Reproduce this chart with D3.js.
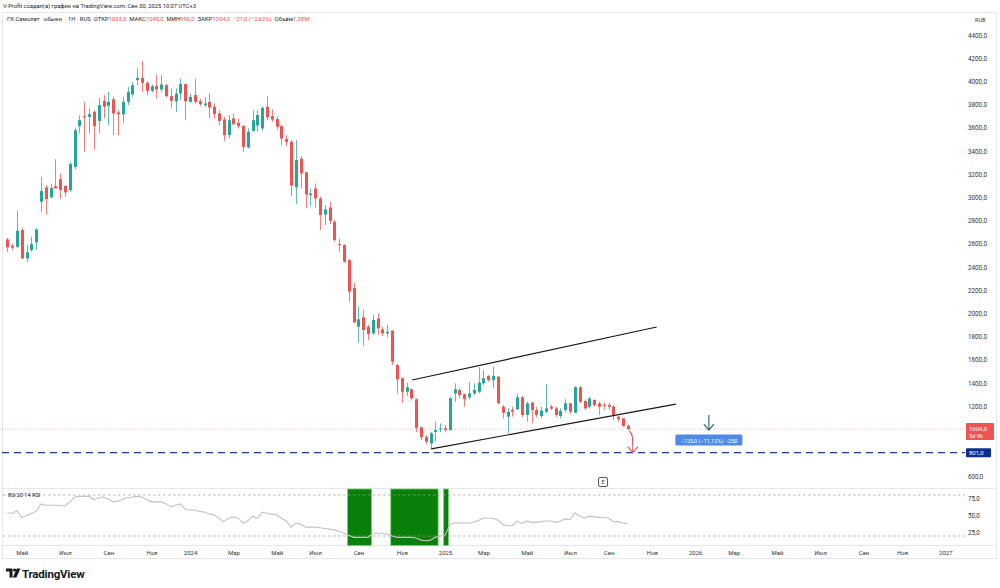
<!DOCTYPE html>
<html>
<head>
<meta charset="utf-8">
<script src="https://cdn.jsdelivr.net/npm/d3@7"></script>
<style>
  body { margin: 0; background: #fff; }
  svg { display: block; font-family: Roboto, "Noto Sans", sans-serif; }
</style>
</head>
<body>
<svg id="chart" width="1000" height="588"></svg>
<script>
// weekly candles, first bar 2023-04-10
let firstWeek = '2023-04-10';

let open = [2639,2584,2575,2719,2475,2547,2613,2963,3087,3001,3098,3158,3098,3064,3264,3615,3701,3695,3738,3660,
  3833,3790,3845,3733,3716,3824,3888,4011,4031,3988,3919,3959,3931,3968,3873,3828,3896,3977,3824,3882,
  3830,3796,3824,3781,3724,3672,3537,3681,3643,3617,3431,3574,3620,3595,3781,3701,3675,3615,3503,3481,
  3089,3335,3217,3020,3078,2992,2854,2914,2791,2598,2590,2461,2220,1886,1967,1886,1829,1958,1864,1829,
  1852,1556,1442,1326,1347,1261,1020,934,882,979,1002,1011,996,1312,1341,1304,1278,1312,1326,1399,
  1462,1427,1455,1197,1111,1169,1175,1278,1126,1232,1169,1117,1154,1197,1183,1117,1169,1226,1145,1364,
  1246,1197,1255,1226,1212,1212,1197,1111,1097,1033.5];

let high = [2653,2604,2885,2739,2590,2661,2734,3178,3107,3121,3330,3207,3107,3307,3600,3710,3824,3767,3753,3858,
  3882,3910,3867,3753,3867,3953,3996,4112,4177,4002,3974,4060,4054,3977,3940,3940,4026,3983,3896,4026,
  3853,3867,3896,3810,3753,3695,3710,3724,3681,3623,3595,3753,3753,3787,3873,3759,3701,3623,3537,3494,
  3494,3356,3221,3078,3121,3006,2934,2963,2805,2648,2598,2467,2265,2058,2030,1901,1987,2002,1886,1901,
  1858,1565,1450,1404,1356,1270,1025,953,982,1068,1054,1040,1283,1399,1356,1312,1412,1399,1536,1513,
  1470,1542,1462,1212,1183,1197,1312,1289,1240,1240,1197,1197,1393,1212,1197,1183,1261,1232,1375,1375,
  1261,1283,1261,1240,1232,1232,1212,1117,1097,1045];

let low = [2532,2547,2561,2469,2446,2532,2547,2877,2854,2992,3078,2986,3006,3049,3242,3552,3393,3552,3414,3552,
  3681,3623,3537,3537,3638,3796,3867,3968,3910,3882,3905,3853,3910,3862,3767,3738,3839,3666,3815,3810,
  3787,3781,3681,3681,3623,3488,3509,3623,3595,3393,3423,3566,3566,3574,3666,3652,3580,3451,3443,3012,
  2943,3078,2906,2926,2914,2719,2762,2771,2618,2532,2437,2102,1915,1748,1720,1772,1815,1815,1806,1795,
  1556,1313,1232,1289,1249,979,910,876,830,896,979,982,990,1240,1269,1197,1261,1298,1312,1384,
  1412,1356,1220,1097,968,1111,1169,1106,1068,1054,1106,1097,1140,1169,1106,1097,1145,1134,1140,1226,
  1169,1183,1197,1126,1169,1169,1083,1068,1025,996];

let close = [2570,2567,2713,2475,2527,2598,2725,3055,2986,3083,3078,3064,3044,3288,3580,3666,3690,3718,3615,3796,
  3781,3824,3724,3716,3824,3910,3968,4031,3988,3919,3959,3931,3974,3873,3833,3896,3977,3830,3867,3824,
  3804,3810,3776,3718,3660,3537,3666,3632,3615,3436,3566,3666,3710,3772,3690,3672,3609,3509,3477,3102,
  3322,3207,3025,3035,2992,2848,2897,2799,2633,2590,2446,2188,1924,1950,1858,1823,1944,1872,1829,1843,
  1585,1433,1326,1364,1270,1014,934,896,968,996,1011,996,1269,1347,1298,1261,1312,1341,1404,1442,
  1427,1462,1226,1145,1154,1154,1278,1126,1226,1169,1126,1163,1183,1180,1126,1163,1226,1154,1364,1240,
  1183,1269,1212,1197,1203,1197,1126,1089,1031,1004];

let rsi = [54,53,57,47,50,53,56,67,65,65,65,65,64,70,77,78,78,78,73,76,
  77,74,70,71,74,76,77,78,77,73,70,70,70,67,63,65,67,59,58,58,
  56,55,52,51,46,41,46,48,46,39,42,49,46,55,53,52,51,46,42,33,
  39,37,33,33,33,32,31,30,29,27,24,21,18,18,18,18,24,24,24,23,
  20,18,18,18,18,17,14,13,14,18,20,21,36,39,39,39,39,40,43,46,
  46,46,43,37,35,35,42,38,42,40,40,41,42,42,40,42,45,44,54,49,
  46,49,48,47,47,46,41,41,39,38];

// oversold zones highlighted on the RSI pane
let zones = [['2024-08-17', '2024-09-21'], ['2024-10-19', '2024-12-27'], ['2025-01-04', '2025-01-11']];

let priceTicks = [4400,4200,4000,3800,3600,3400,3200,3000,2800,2600,2400,2200,2000,1800,1600,1400,1200,600];
let rsiTicks = [75, 50, 25];

let timeTicks = [
  ['2023-05-01','Май'],['2023-07-03','Июл'],['2023-09-04','Сен'],['2023-11-06','Ноя'],
  ['2024-01-01','2024'],['2024-03-04','Мар'],['2024-05-06','Май'],['2024-07-01','Июл'],
  ['2024-09-02','Сен'],['2024-11-04','Ноя'],['2025-01-06','2025'],['2025-03-03','Мар'],
  ['2025-05-05','Май'],['2025-07-07','Июл'],['2025-09-01','Сен'],['2025-11-03','Ноя'],
  ['2026-01-05','2026'],['2026-03-02','Мар'],['2026-05-04','Май'],['2026-07-06','Июл'],
  ['2026-09-07','Сен'],['2026-11-02','Ноя'],['2027-01-04','2027']];

// drawings
let upperChannel = [['2024-11-19', 1427], ['2025-11-10', 1884]];
let lowerChannel = [['2024-12-17', 833], ['2025-12-08', 1220]];
let lastPrice = 1004;
let targetPrice = 801;
let arrowDown = ['2026-01-25', 1126, 996];
let rangeLabel = '−125,0 (−11,12%) −250';
let earningsDate = '2025-08-24';

let up = '#26a69a';
let down = '#ef5350';

let parse = d3.timeParse('%Y-%m-%d');
let weeks = open.map((_, i) => d3.timeDay.offset(parse(firstWeek), i * 7));

let x = d3.scaleTime()
          .domain([weeks[0], weeks[weeks.length - 1]])
          .range([7.3, 627.8]);

let y = d3.scaleLinear()
          .domain([600, 4400])
          .range([476, 35]);

let yr = d3.scaleLinear()
           .domain([20, 80])
           .range([536, 495]);

let fmt = v => d3.format('.1f')(v).replace('.', ',');

let svg = d3.select('#chart');
let plotRight = 965;

// frame and pane separators
svg.append('rect')
    .attr('x', 2.5).attr('y', 12.5).attr('width', 994).attr('height', 546)
    .attr('fill', 'none').attr('stroke', '#e6e7ea');
[488.5, 545.5].forEach(v => svg.append('line')
    .attr('x1', 2.5).attr('x2', 996.5).attr('y1', v).attr('y2', v)
    .attr('stroke', '#e6e7ea'));

// header
svg.append('text')
    .attr('x', 3).attr('y', 8)
    .attr('font-size', 5.8).attr('fill', '#222')
    .text('V-Profit создал(а) график на TradingView.com, Сен 30, 2025 10:07 UTC+3');

let legend = svg.append('text')
    .attr('x', 7).attr('y', 21)
    .attr('font-size', 5.9).attr('fill', '#222')
    .attr('xml:space', 'preserve');
legend.append('tspan').text('ГК Самолет · обыкн. · 1Н · RUS  ОТКР');
legend.append('tspan').attr('fill', down).text('1033,5');
legend.append('tspan').text('  МАКС');
legend.append('tspan').attr('fill', down).text('1045,0');
legend.append('tspan').text('  МИН');
legend.append('tspan').attr('fill', down).text('996,0');
legend.append('tspan').text('  ЗАКР');
legend.append('tspan').attr('fill', down).text('1004,0  −27,0 (−2,62%)');
legend.append('tspan').text('  Объём');
legend.append('tspan').attr('fill', down).text('1,38M');

svg.append('text')
    .attr('x', 975).attr('y', 22)
    .attr('font-size', 5.6).attr('fill', '#333')
    .text('RUB');

// price axis
svg.append('g')
    .attr('transform', `translate(${plotRight + 2},0)`)
    .call(d3.axisRight(y).tickValues(priceTicks).tickSize(0).tickPadding(1).tickFormat(fmt))
    .call(g => g.select('.domain').remove())
    .selectAll('text')
    .attr('font-size', 6.3).attr('fill', '#333').attr('font-family', 'Roboto, sans-serif');

// last price line (dotted) and target line (dashed)
svg.append('line')
    .attr('x1', 0).attr('x2', plotRight)
    .attr('y1', y(lastPrice)).attr('y2', y(lastPrice))
    .attr('stroke', '#f2a6a6').attr('stroke-width', 0.8).attr('stroke-dasharray', '1,1.5');
svg.append('line')
    .attr('x1', 2).attr('x2', plotRight)
    .attr('y1', y(targetPrice)).attr('y2', y(targetPrice))
    .attr('stroke', '#1c3a8e').attr('stroke-width', 1.4).attr('stroke-dasharray', '7,5');

// candles
let candles = weeks.map((d, i) => ({date: d, o: open[i], h: high[i], l: low[i], c: close[i]}));
let cg = svg.append('g');
cg.selectAll('line')
  .data(candles)
  .enter()
  .append('line')
    .attr('x1', d => Math.round(x(d.date)) + 0.5)
    .attr('x2', d => Math.round(x(d.date)) + 0.5)
    .attr('y1', d => y(d.h))
    .attr('y2', d => y(d.l))
    .attr('stroke', d => d.c >= d.o ? up : down)
    .attr('stroke-opacity', 0.75);
cg.selectAll('rect')
  .data(candles)
  .enter()
  .append('rect')
    .attr('x', d => Math.round(x(d.date)) - 1)
    .attr('width', 3)
    .attr('y', d => y(Math.max(d.o, d.c)))
    .attr('height', d => Math.max(1, Math.abs(y(d.o) - y(d.c))))
    .attr('fill', d => d.c >= d.o ? up : down);

// channel lines
[upperChannel, lowerChannel].forEach(seg => svg.append('line')
    .attr('x1', x(parse(seg[0][0]))).attr('y1', y(seg[0][1]))
    .attr('x2', x(parse(seg[1][0]))).attr('y2', y(seg[1][1]))
    .attr('stroke', '#131722').attr('stroke-width', 1.2));

// green down arrow
let ax = x(parse(arrowDown[0]));
let ay1 = y(arrowDown[1]), ay2 = y(arrowDown[2]);
svg.append('path')
    .attr('d', `M${ax},${ay1}V${ay2}M${ax - 5},${ay2 - 6}L${ax},${ay2}L${ax + 5},${ay2 - 6}`)
    .attr('fill', 'none').attr('stroke', '#1e6b4e').attr('stroke-width', 1.1);

// red curved arrow from the last bar to the target
let lx = x(weeks[weeks.length - 1]) + 1;
let ly = y(low[low.length - 1]) + 1;
let ty = y(targetPrice);
svg.append('path')
    .attr('d', `M${lx},${ly}C${lx + 4},${ly + 2} ${lx + 4},${ly + 6} ${lx + 4},${ty}` +
               `M${lx - 1},${ty - 6}L${lx + 4},${ty}L${lx + 9},${ty - 6}`)
    .attr('fill', 'none').attr('stroke', '#e4506a').attr('stroke-width', 1.1);

// price range label
let lbl = svg.append('g').attr('transform', `translate(${ax},${y(lastPrice) + 11.5})`);
lbl.append('rect')
    .attr('x', -33.5).attr('y', -6).attr('width', 67).attr('height', 11).attr('rx', 1.5)
    .attr('fill', '#4f8ae6');
lbl.append('text')
    .attr('text-anchor', 'middle').attr('y', 2)
    .attr('font-size', 5.6).attr('fill', '#fff')
    .text(rangeLabel);

// earnings marker
let ex = x(parse(earningsDate));
svg.append('rect')
    .attr('x', ex - 4.5).attr('y', 477.5).attr('width', 9).attr('height', 9).attr('rx', 1.5)
    .attr('fill', '#fff').attr('stroke', '#555');
svg.append('text')
    .attr('x', ex).attr('y', 484.2).attr('text-anchor', 'middle')
    .attr('font-size', 5.5).attr('fill', '#333').text('E');

// price badges
let b1 = svg.append('g').attr('transform', `translate(966,${y(lastPrice)})`);
b1.append('rect').attr('x', 0).attr('y', -6).attr('width', 28).attr('height', 17).attr('rx', 1)
    .attr('fill', '#f05350');
b1.append('text').attr('x', 3).attr('y', 1.5).attr('font-size', 6).attr('fill', '#fff').text(fmt(lastPrice));
b1.append('text').attr('x', 3).attr('y', 8.5).attr('font-size', 5.6).attr('fill', '#fff').text('5d 9h');

let b2 = svg.append('g').attr('transform', `translate(966,${y(targetPrice)})`);
b2.append('rect').attr('x', 0).attr('y', -4.5).attr('width', 25).attr('height', 9).attr('rx', 1)
    .attr('fill', '#0d2e8f');
b2.append('text').attr('x', 3).attr('y', 2.2).attr('font-size', 6).attr('fill', '#fff').text(fmt(targetPrice));

// RSI pane
zones.forEach(z => svg.append('rect')
    .attr('x', x(parse(z[0]))).attr('width', x(parse(z[1])) - x(parse(z[0])))
    .attr('y', 489).attr('height', 56.5)
    .attr('fill', '#0a800a').attr('stroke', '#7cd27c').attr('stroke-width', 0.8));

[80, 20].forEach(v => svg.append('line')
    .attr('x1', 3).attr('x2', plotRight)
    .attr('y1', yr(v)).attr('y2', yr(v))
    .attr('stroke', '#9a9a9a').attr('stroke-width', 0.7).attr('stroke-dasharray', '2.5,2.5'));

svg.append('path')
    .datum(rsi)
    .attr('d', d3.line().x((d, i) => x(weeks[i])).y(d => yr(d)))
    .attr('fill', 'none').attr('stroke', '#c2c2c2').attr('stroke-width', 1.1);

svg.append('text')
    .attr('x', 8).attr('y', 497)
    .attr('font-size', 5.6).attr('fill', '#222')
    .text('80/20 14 RSI');

svg.append('g')
    .attr('transform', `translate(${plotRight + 2},0)`)
    .call(d3.axisRight(yr).tickValues(rsiTicks).tickSize(0).tickPadding(1).tickFormat(fmt))
    .call(g => g.select('.domain').remove())
    .selectAll('text')
    .attr('font-size', 6.3).attr('fill', '#333').attr('font-family', 'Roboto, sans-serif');

// time axis
let tickLabel = new Map(timeTicks.map(t => [+parse(t[0]), t[1]]));
svg.append('g')
    .attr('transform', 'translate(0,548.5)')
    .call(d3.axisBottom(x).tickValues(timeTicks.map(t => parse(t[0]))).tickSize(0).tickPadding(2)
            .tickFormat(d => tickLabel.get(+d)))
    .call(g => g.select('.domain').remove())
    .selectAll('text')
    .attr('font-size', 6).attr('fill', '#333').attr('font-family', 'Roboto, sans-serif');

// TradingView logo
let logo = svg.append('g').attr('fill', '#131722');
logo.append('path').attr('d', 'M6,568.5h6.5v9h-3v-6h-3.5z');
logo.append('circle').attr('cx', 14.6).attr('cy', 570).attr('r', 1.6);
logo.append('path').attr('d', 'M16.8,568.5h3.6l-4,9h-3.6z');
logo.append('text')
    .attr('x', 22).attr('y', 577.5)
    .attr('font-size', 11.5).attr('font-weight', 700).attr('letter-spacing', -0.2)
    .text('TradingView');
</script>
</body>
</html>
